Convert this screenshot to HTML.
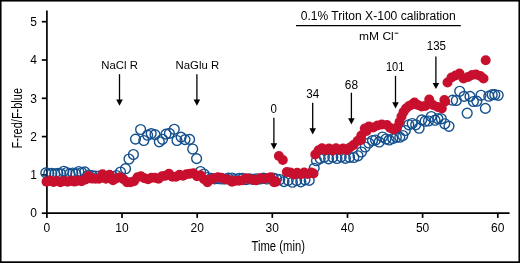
<!DOCTYPE html>
<html><head><meta charset="utf-8"><style>
html,body{margin:0;padding:0;background:#fff;width:520px;height:263px;overflow:hidden}
svg{display:block;will-change:transform}
</style></head><body>
<svg width="520" height="263" viewBox="0 0 520 263"><g fill="#000"><rect x="0" y="0" width="1.55" height="263"/><rect x="0" y="0" width="520" height="1.55"/><rect x="518.45" y="0" width="1.55" height="263"/><rect x="0" y="261.3" width="520" height="1.7"/></g>
<g stroke="#000" stroke-width="1.7" fill="none">
<path d="M46.9,10.5 V214.0"/>
<path d="M46.1,213.2 H509.6"/>
<path d="M41.8,213.2 H46.9"/>
<path d="M41.8,174.9 H46.9"/>
<path d="M41.8,136.6 H46.9"/>
<path d="M41.8,98.3 H46.9"/>
<path d="M41.8,60.0 H46.9"/>
<path d="M41.8,21.7 H46.9"/>
<path d="M46.9,213.2 V217.9"/>
<path d="M122.0,213.2 V217.9"/>
<path d="M197.2,213.2 V217.9"/>
<path d="M272.3,213.2 V217.9"/>
<path d="M347.5,213.2 V217.9"/>
<path d="M422.6,213.2 V217.9"/>
<path d="M497.8,213.2 V217.9"/>
</g>
<g fill="none" stroke="#14508d" stroke-width="1.4"><circle cx="45.8" cy="172.9" r="4.9"/><circle cx="48.8" cy="173.3" r="4.9"/><circle cx="51.8" cy="173.4" r="4.9"/><circle cx="54.8" cy="173.8" r="4.9"/><circle cx="57.8" cy="173.3" r="4.9"/><circle cx="60.8" cy="173.8" r="4.9"/><circle cx="63.8" cy="171.3" r="4.9"/><circle cx="66.8" cy="172.5" r="4.9"/><circle cx="69.8" cy="173.8" r="4.9"/><circle cx="72.8" cy="173.0" r="4.9"/><circle cx="75.8" cy="173.7" r="4.9"/><circle cx="78.8" cy="171.5" r="4.9"/><circle cx="81.8" cy="172.5" r="4.9"/><circle cx="84.8" cy="171.9" r="4.9"/><circle cx="88.5" cy="175.0" r="4.9"/><circle cx="92.0" cy="175.5" r="4.9"/><circle cx="95.5" cy="176.0" r="4.9"/><circle cx="99.0" cy="176.0" r="4.9"/><circle cx="102.5" cy="176.2" r="4.9"/><circle cx="106.0" cy="176.5" r="4.9"/><circle cx="109.5" cy="177.0" r="4.9"/><circle cx="113.0" cy="176.5" r="4.9"/><circle cx="116.5" cy="175.5" r="4.9"/><circle cx="120.5" cy="172.0" r="4.9"/><circle cx="125.5" cy="168.7" r="4.9"/><circle cx="129.0" cy="159.0" r="4.9"/><circle cx="133.4" cy="154.5" r="4.9"/><circle cx="135.5" cy="139.1" r="4.9"/><circle cx="140.6" cy="129.5" r="4.9"/><circle cx="143.8" cy="140.5" r="4.9"/><circle cx="147.6" cy="135.2" r="4.9"/><circle cx="151.2" cy="133.6" r="4.9"/><circle cx="155.0" cy="134.6" r="4.9"/><circle cx="159.3" cy="141.8" r="4.9"/><circle cx="162.5" cy="139.3" r="4.9"/><circle cx="166.0" cy="134.1" r="4.9"/><circle cx="169.4" cy="133.4" r="4.9"/><circle cx="174.3" cy="129.3" r="4.9"/><circle cx="177.0" cy="140.5" r="4.9"/><circle cx="181.1" cy="137.1" r="4.9"/><circle cx="185.0" cy="139.6" r="4.9"/><circle cx="189.6" cy="139.4" r="4.9"/><circle cx="192.7" cy="149.0" r="4.9"/><circle cx="196.6" cy="158.6" r="4.9"/><circle cx="200.5" cy="171.5" r="4.9"/><circle cx="204.0" cy="174.0" r="4.9"/><circle cx="207.5" cy="177.5" r="4.9"/><circle cx="211.0" cy="178.4" r="4.9"/><circle cx="214.5" cy="178.9" r="4.9"/><circle cx="218.0" cy="178.6" r="4.9"/><circle cx="221.5" cy="179.0" r="4.9"/><circle cx="225.0" cy="179.0" r="4.9"/><circle cx="228.5" cy="178.1" r="4.9"/><circle cx="232.0" cy="178.0" r="4.9"/><circle cx="235.5" cy="179.3" r="4.9"/><circle cx="239.0" cy="178.4" r="4.9"/><circle cx="242.5" cy="178.4" r="4.9"/><circle cx="246.0" cy="179.6" r="4.9"/><circle cx="249.5" cy="178.8" r="4.9"/><circle cx="253.0" cy="179.3" r="4.9"/><circle cx="256.5" cy="178.8" r="4.9"/><circle cx="260.0" cy="179.0" r="4.9"/><circle cx="263.5" cy="178.2" r="4.9"/><circle cx="267.0" cy="179.0" r="4.9"/><circle cx="273.2" cy="178.0" r="4.9"/><circle cx="276.5" cy="179.0" r="4.9"/><circle cx="279.8" cy="179.5" r="4.9"/><circle cx="284.0" cy="181.6" r="4.9"/><circle cx="288.2" cy="180.3" r="4.9"/><circle cx="292.4" cy="182.2" r="4.9"/><circle cx="296.6" cy="180.5" r="4.9"/><circle cx="300.8" cy="181.8" r="4.9"/><circle cx="305.0" cy="179.8" r="4.9"/><circle cx="309.2" cy="180.4" r="4.9"/><circle cx="314.2" cy="168.3" r="4.9"/><circle cx="316.5" cy="160.7" r="4.9"/><circle cx="320.2" cy="158.6" r="4.9"/><circle cx="324.4" cy="157.0" r="4.9"/><circle cx="328.6" cy="158.8" r="4.9"/><circle cx="332.8" cy="157.2" r="4.9"/><circle cx="337.0" cy="158.5" r="4.9"/><circle cx="341.2" cy="156.8" r="4.9"/><circle cx="345.4" cy="158.4" r="4.9"/><circle cx="349.6" cy="157.3" r="4.9"/><circle cx="353.8" cy="157.5" r="4.9"/><circle cx="358.0" cy="155.8" r="4.9"/><circle cx="361.5" cy="152.0" r="4.9"/><circle cx="365.2" cy="147.0" r="4.9"/><circle cx="368.8" cy="143.0" r="4.9"/><circle cx="372.5" cy="140.5" r="4.9"/><circle cx="375.5" cy="140.0" r="4.9"/><circle cx="379.2" cy="142.0" r="4.9"/><circle cx="382.5" cy="137.0" r="4.9"/><circle cx="386.0" cy="139.0" r="4.9"/><circle cx="389.2" cy="140.0" r="4.9"/><circle cx="392.8" cy="138.5" r="4.9"/><circle cx="396.3" cy="137.3" r="4.9"/><circle cx="399.8" cy="137.2" r="4.9"/><circle cx="402.8" cy="135.5" r="4.9"/><circle cx="405.3" cy="130.5" r="4.9"/><circle cx="408.8" cy="124.8" r="4.9"/><circle cx="412.2" cy="123.5" r="4.9"/><circle cx="415.7" cy="124.8" r="4.9"/><circle cx="419.1" cy="128.2" r="4.9"/><circle cx="421.7" cy="119.9" r="4.9"/><circle cx="425.1" cy="121.2" r="4.9"/><circle cx="428.5" cy="121.0" r="4.9"/><circle cx="431.3" cy="116.5" r="4.9"/><circle cx="435.0" cy="120.2" r="4.9"/><circle cx="437.9" cy="118.6" r="4.9"/><circle cx="441.3" cy="118.8" r="4.9"/><circle cx="444.8" cy="123.8" r="4.9"/><circle cx="449.0" cy="126.3" r="4.9"/><circle cx="452.6" cy="100.2" r="4.9"/><circle cx="456.3" cy="100.5" r="4.9"/><circle cx="459.7" cy="91.3" r="4.9"/><circle cx="464.0" cy="96.4" r="4.9"/><circle cx="467.2" cy="113.2" r="4.9"/><circle cx="470.0" cy="96.4" r="4.9"/><circle cx="473.4" cy="101.5" r="4.9"/><circle cx="476.8" cy="101.2" r="4.9"/><circle cx="481.0" cy="95.3" r="4.9"/><circle cx="485.4" cy="108.4" r="4.9"/><circle cx="488.8" cy="96.2" r="4.9"/><circle cx="492.2" cy="94.7" r="4.9"/><circle cx="494.8" cy="94.7" r="4.9"/><circle cx="498.2" cy="95.3" r="4.9"/></g>
<g fill="#c8102e"><circle cx="46.5" cy="181.8" r="5.0"/><circle cx="50.0" cy="180.6" r="5.0"/><circle cx="53.5" cy="182.0" r="5.0"/><circle cx="57.0" cy="180.8" r="5.0"/><circle cx="60.5" cy="182.2" r="5.0"/><circle cx="64.0" cy="181.0" r="5.0"/><circle cx="67.5" cy="181.8" r="5.0"/><circle cx="71.0" cy="180.5" r="5.0"/><circle cx="74.5" cy="181.6" r="5.0"/><circle cx="78.0" cy="180.4" r="5.0"/><circle cx="81.5" cy="181.2" r="5.0"/><circle cx="85.0" cy="179.6" r="5.0"/><circle cx="88.5" cy="176.0" r="5.0"/><circle cx="92.0" cy="178.6" r="5.0"/><circle cx="95.5" cy="178.8" r="5.0"/><circle cx="99.0" cy="178.7" r="5.0"/><circle cx="102.5" cy="174.2" r="5.0"/><circle cx="106.0" cy="178.7" r="5.0"/><circle cx="109.5" cy="174.7" r="5.0"/><circle cx="113.0" cy="180.2" r="5.0"/><circle cx="116.5" cy="178.2" r="5.0"/><circle cx="120.0" cy="177.2" r="5.0"/><circle cx="123.5" cy="179.2" r="5.0"/><circle cx="127.0" cy="182.3" r="5.0"/><circle cx="130.5" cy="182.3" r="5.0"/><circle cx="134.0" cy="181.3" r="5.0"/><circle cx="137.5" cy="177.2" r="5.0"/><circle cx="141.0" cy="176.2" r="5.0"/><circle cx="144.5" cy="178.3" r="5.0"/><circle cx="148.0" cy="179.3" r="5.0"/><circle cx="151.5" cy="177.7" r="5.0"/><circle cx="155.0" cy="177.7" r="5.0"/><circle cx="158.5" cy="178.8" r="5.0"/><circle cx="162.0" cy="176.3" r="5.0"/><circle cx="165.5" cy="175.8" r="5.0"/><circle cx="169.0" cy="173.7" r="5.0"/><circle cx="172.5" cy="176.8" r="5.0"/><circle cx="176.0" cy="176.8" r="5.0"/><circle cx="179.5" cy="174.7" r="5.0"/><circle cx="183.0" cy="175.8" r="5.0"/><circle cx="186.5" cy="174.2" r="5.0"/><circle cx="190.0" cy="173.7" r="5.0"/><circle cx="193.5" cy="173.2" r="5.0"/><circle cx="197.0" cy="176.3" r="5.0"/><circle cx="200.5" cy="175.2" r="5.0"/><circle cx="204.0" cy="179.3" r="5.0"/><circle cx="207.5" cy="182.3" r="5.0"/><circle cx="211.0" cy="179.2" r="5.0"/><circle cx="214.5" cy="178.2" r="5.0"/><circle cx="218.0" cy="177.2" r="5.0"/><circle cx="221.5" cy="177.7" r="5.0"/><circle cx="225.0" cy="179.2" r="5.0"/><circle cx="228.5" cy="179.7" r="5.0"/><circle cx="232.0" cy="181.8" r="5.0"/><circle cx="235.5" cy="180.8" r="5.0"/><circle cx="239.0" cy="180.8" r="5.0"/><circle cx="242.5" cy="180.3" r="5.0"/><circle cx="246.0" cy="178.2" r="5.0"/><circle cx="249.5" cy="178.7" r="5.0"/><circle cx="253.0" cy="179.8" r="5.0"/><circle cx="256.5" cy="180.3" r="5.0"/><circle cx="260.0" cy="178.2" r="5.0"/><circle cx="263.5" cy="178.8" r="5.0"/><circle cx="267.0" cy="178.3" r="5.0"/><circle cx="270.5" cy="177.2" r="5.0"/><circle cx="274.0" cy="182.3" r="5.0"/><circle cx="276.0" cy="181.7" r="5.0"/><circle cx="278.9" cy="156.0" r="5.0"/><circle cx="282.8" cy="160.0" r="5.0"/><circle cx="286.8" cy="172.0" r="5.0"/><circle cx="290.2" cy="172.4" r="5.0"/><circle cx="293.7" cy="174.4" r="5.0"/><circle cx="297.2" cy="172.8" r="5.0"/><circle cx="300.7" cy="174.2" r="5.0"/><circle cx="304.2" cy="172.6" r="5.0"/><circle cx="307.7" cy="173.9" r="5.0"/><circle cx="311.2" cy="172.5" r="5.0"/><circle cx="313.5" cy="173.5" r="5.0"/><circle cx="315.3" cy="154.5" r="5.0"/><circle cx="318.6" cy="150.3" r="5.0"/><circle cx="322.0" cy="148.2" r="5.0"/><circle cx="325.5" cy="150.3" r="5.0"/><circle cx="329.0" cy="148.4" r="5.0"/><circle cx="332.5" cy="150.4" r="5.0"/><circle cx="336.0" cy="148.2" r="5.0"/><circle cx="339.5" cy="150.0" r="5.0"/><circle cx="343.0" cy="148.4" r="5.0"/><circle cx="346.5" cy="150.0" r="5.0"/><circle cx="350.0" cy="147.5" r="5.0"/><circle cx="353.5" cy="145.0" r="5.0"/><circle cx="357.5" cy="141.0" r="5.0"/><circle cx="361.3" cy="135.5" r="5.0"/><circle cx="364.8" cy="128.5" r="5.0"/><circle cx="368.9" cy="126.5" r="5.0"/><circle cx="361.0" cy="140.0" r="5.0"/><circle cx="366.5" cy="131.0" r="5.0"/><circle cx="373.2" cy="127.5" r="5.0"/><circle cx="377.5" cy="125.5" r="5.0"/><circle cx="381.8" cy="124.5" r="5.0"/><circle cx="386.9" cy="125.0" r="5.0"/><circle cx="390.3" cy="128.0" r="5.0"/><circle cx="393.7" cy="129.5" r="5.0"/><circle cx="397.0" cy="127.5" r="5.0"/><circle cx="399.5" cy="122.0" r="5.0"/><circle cx="401.5" cy="116.5" r="5.0"/><circle cx="403.5" cy="112.0" r="5.0"/><circle cx="406.0" cy="108.5" r="5.0"/><circle cx="409.0" cy="106.0" r="5.0"/><circle cx="412.0" cy="104.5" r="5.0"/><circle cx="414.5" cy="102.5" r="5.0"/><circle cx="417.8" cy="105.0" r="5.0"/><circle cx="421.6" cy="106.5" r="5.0"/><circle cx="425.2" cy="106.0" r="5.0"/><circle cx="429.2" cy="99.5" r="5.0"/><circle cx="433.0" cy="105.0" r="5.0"/><circle cx="437.8" cy="107.0" r="5.0"/><circle cx="441.8" cy="108.5" r="5.0"/><circle cx="444.4" cy="100.0" r="5.0"/><circle cx="445.2" cy="101.5" r="5.0"/><circle cx="447.5" cy="82.5" r="5.0"/><circle cx="451.5" cy="77.5" r="5.0"/><circle cx="455.5" cy="75.5" r="5.0"/><circle cx="459.5" cy="73.5" r="5.0"/><circle cx="463.5" cy="78.5" r="5.0"/><circle cx="468.0" cy="77.0" r="5.0"/><circle cx="472.0" cy="75.0" r="5.0"/><circle cx="476.0" cy="74.5" r="5.0"/><circle cx="480.3" cy="76.0" r="5.0"/><circle cx="483.5" cy="78.5" r="5.0"/><circle cx="485.7" cy="60.2" r="5.0"/></g>
<g font-family='"Liberation Sans", sans-serif' font-size="12" fill="#000">
<text x="37" y="217.4" text-anchor="end">0</text>
<text x="37" y="179.1" text-anchor="end">1</text>
<text x="37" y="140.8" text-anchor="end">2</text>
<text x="37" y="102.5" text-anchor="end">3</text>
<text x="37" y="64.2" text-anchor="end">4</text>
<text x="37" y="25.9" text-anchor="end">5</text>
<text x="46.9" y="231.6" text-anchor="middle">0</text>
<text x="122.0" y="231.6" text-anchor="middle">10</text>
<text x="197.2" y="231.6" text-anchor="middle">20</text>
<text x="272.3" y="231.6" text-anchor="middle">30</text>
<text x="347.5" y="231.6" text-anchor="middle">40</text>
<text x="422.6" y="231.6" text-anchor="middle">50</text>
<text x="497.8" y="231.6" text-anchor="middle">60</text>
</g>
<text x="251.5" y="251.2" font-family='"Liberation Sans", sans-serif' font-size="13.8" textLength="53.4" lengthAdjust="spacingAndGlyphs">Time (min)</text>
<text transform="translate(21.6,148.4) rotate(-90)" x="0" y="0" font-family='"Liberation Sans", sans-serif' font-size="14" textLength="60.4" lengthAdjust="spacingAndGlyphs">F-red/F-blue</text>
<text x="300.7" y="19.7" font-family='"Liberation Sans", sans-serif' font-size="12" textLength="155" lengthAdjust="spacingAndGlyphs">0.1% Triton X-100 calibration</text>
<path d="M296,25.55 H460.8" stroke="#000" stroke-width="1.25"/>
<text x="359.1" y="40.0" font-family='"Liberation Sans", sans-serif' font-size="11.8" textLength="34.6" lengthAdjust="spacingAndGlyphs">mM Cl</text>
<path d="M394.6,33.2 H398.4" stroke="#000" stroke-width="0.9"/>
<text x="101.3" y="69.3" font-family='"Liberation Sans", sans-serif' font-size="11.6" textLength="36.6" lengthAdjust="spacingAndGlyphs">NaCl R</text>
<path d="M119.5,74.2 V100.7" stroke="#000" stroke-width="1.3"/>
<path d="M116.2,99.5 L122.8,99.5 L119.5,105.7 Z" fill="#000"/>
<text x="175.6" y="69.3" font-family='"Liberation Sans", sans-serif' font-size="11.6" textLength="43.6" lengthAdjust="spacingAndGlyphs">NaGlu R</text>
<path d="M196.9,74.2 V100.7" stroke="#000" stroke-width="1.3"/>
<path d="M193.6,99.5 L200.2,99.5 L196.9,105.7 Z" fill="#000"/>
<text x="270.6" y="113.1" font-family='"Liberation Sans", sans-serif' font-size="12" textLength="6.4" lengthAdjust="spacingAndGlyphs">0</text>
<path d="M273.9,117.7 V144.5" stroke="#000" stroke-width="1.3"/>
<path d="M270.6,143.3 L277.2,143.3 L273.9,149.5 Z" fill="#000"/>
<text x="306.3" y="98.2" font-family='"Liberation Sans", sans-serif' font-size="12" textLength="13.0" lengthAdjust="spacingAndGlyphs">34</text>
<path d="M312.7,102.7 V129.5" stroke="#000" stroke-width="1.3"/>
<path d="M309.4,128.3 L316.0,128.3 L312.7,134.5 Z" fill="#000"/>
<text x="344.8" y="88.6" font-family='"Liberation Sans", sans-serif' font-size="12" textLength="13.2" lengthAdjust="spacingAndGlyphs">68</text>
<path d="M351.4,92.7 V119.5" stroke="#000" stroke-width="1.3"/>
<path d="M348.1,118.3 L354.7,118.3 L351.4,124.5 Z" fill="#000"/>
<text x="385.9" y="71.3" font-family='"Liberation Sans", sans-serif' font-size="12" textLength="18.4" lengthAdjust="spacingAndGlyphs">101</text>
<path d="M395.5,75.9 V103.4" stroke="#000" stroke-width="1.3"/>
<path d="M392.2,102.2 L398.8,102.2 L395.5,108.4 Z" fill="#000"/>
<text x="426.8" y="50.3" font-family='"Liberation Sans", sans-serif' font-size="12" textLength="19.2" lengthAdjust="spacingAndGlyphs">135</text>
<path d="M435.9,56.6 V84.1" stroke="#000" stroke-width="1.3"/>
<path d="M432.6,82.9 L439.2,82.9 L435.9,89.1 Z" fill="#000"/></svg>
</body></html>
